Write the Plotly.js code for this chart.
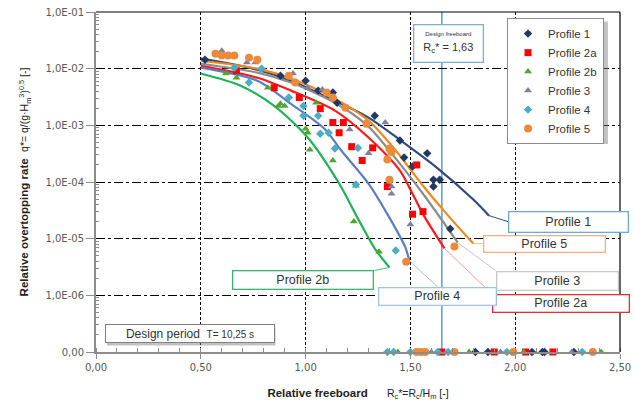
<!DOCTYPE html>
<html><head><meta charset="utf-8">
<script src="https://cdn.plot.ly/plotly-3.0.1.min.js"></script>
<style>html,body{margin:0;padding:0;background:#fff}#chart{width:633px;height:401px}</style>
</head><body><div id="chart"></div>
<script>
// ---- data ----
const profileNames = ['Profile 1','Profile 2a','Profile 2b','Profile 3','Profile 4','Profile 5'];

// measured points (y = 0 means no overtopping; drawn on the "0,00" row)
const p1X = [0.52,0.88,1.00,1.06,1.13,1.15,1.33,1.45,1.58,1.47,1.51,1.61,1.64,1.61,1.69, 1.81,1.87,2.08,2.13,2.14,2.28];
const p1Y = [1.44e-2,7.5e-3,6.1e-3,4.1e-3,3.8e-3,2.5e-3,1.48e-3,5.4e-4,3.2e-4,2.7e-4,1.87e-4,1.10e-4,1.10e-4,8.3e-5,1.5e-5, 0,0,0,0,0,0];
const p2aX = [0.67,0.85,0.97,1.07,1.13,1.18,1.16,1.22,1.32,1.27,1.53,1.39,1.51,1.56, 1.65,1.90,2.05,2.18];
const p2aY = [9.2e-3,4.6e-3,3.1e-3,1.97e-3,1.12e-3,1.12e-3,7.4e-4,4.2e-4,4.0e-4,2.4e-4,2.0e-4,8.3e-5,2.7e-5,3.0e-5, 0,0,0,0];
const p2bX = [0.62,0.67,0.82,0.87,0.88,0.90,1.00,1.01,1.05,1.02,1.13,1.24,1.23,1.35, 1.44,1.78,2.04,2.41];
const p2bY = [8.2e-3,6.9e-3,4.6e-3,2.2e-3,2.4e-3,2.2e-3,8.7e-4,7.4e-4,2.5e-3,3.7e-4,2.4e-4,8.6e-5,2.0e-5,5.9e-6, 0,0,0,0];
const p3X = [0.60,0.72,0.76,0.94,1.01,1.08,1.21,1.38,1.41,1.30,1.41,1.41,1.50, 1.58,1.60,1.93,2.27];
const p3Y = [2.07e-2,1.28e-2,1.28e-2,8.2e-3,4.6e-3,4.3e-3,8.4e-4,1.12e-3,3.7e-4,3.2e-4,8.3e-5,6.2e-5,1.77e-5, 0,0,0,0];
const p4X = [0.66,0.73,0.79,0.92,0.99,0.99,1.06,1.07,1.11,1.14,1.25,1.24,1.43, 1.39,1.42,1.50,1.63,1.68,1.96,2.32];
const p4Y = [1.04e-2,5.7e-3,1.0e-2,3.1e-3,2.2e-3,1.48e-3,1.48e-3,7.1e-4,7.4e-4,3.9e-4,4.0e-4,9.0e-5,6.2e-6, 0,0,0,0,0,0,0];
const p5X = [0.57,0.60,0.63,0.66,0.73,0.77,0.92,0.95,1.10,1.13,1.19,1.29,1.40,1.41,1.39,1.40,1.48,1.71, 1.53,1.55,1.57,1.71,1.99,2.37];
const p5Y = [1.84e-2,1.70e-2,1.70e-2,1.70e-2,1.56e-2,1.44e-2,7.5e-3,5.7e-3,3.8e-3,3.1e-3,2.05e-3,1.07e-3,3.9e-4,3.4e-4,2.5e-4,1.10e-4,3.9e-6,7.3e-6, 0,0,0,0,0,0];

// fitted curves
const f1X = [0.50,0.61,0.77,0.93,1.09,1.30,1.46,1.62,1.80,1.875];
const f1Y = [1.50e-2,1.28e-2,9.6e-3,6.1e-3,3.3e-3,1.37e-3,5.2e-4,1.87e-4,4.9e-5,2.55e-5];
const f2aX = [0.50,0.77,0.93,1.14,1.30,1.45,1.51,1.57,1.663];
const f2aY = [1.13e-2,6.9e-3,4.1e-3,1.82e-3,6.1e-4,1.59e-4,6.2e-5,2.35e-5,6.7e-6];
const f2bX = [0.50,0.69,0.85,1.01,1.16,1.255,1.33,1.40];
const f2bY = [8.2e-3,5.0e-3,2.2e-3,6.1e-4,9.4e-5,2.08e-5,6.7e-6,3.1e-6];
const f3X = [0.50,0.77,0.93,1.14,1.30,1.41,1.56,1.726];
const f3Y = [1.22e-2,8.5e-3,5.7e-3,2.5e-3,9.5e-4,3.2e-4,6.2e-5,8.5e-6];
const f4X = [0.50,0.77,0.93,1.09,1.17,1.30,1.40,1.476,1.495];
const f4Y = [1.04e-2,6.1e-3,2.4e-3,8.7e-4,3.6e-4,9.4e-5,2.35e-5,7.0e-6,4.1e-6];
const f5X = [0.50,0.77,0.93,1.14,1.30,1.43,1.56,1.68,1.80];
const f5Y = [1.38e-2,1.0e-2,6.7e-3,2.96e-3,1.21e-3,3.6e-4,8.6e-5,2.55e-5,8.2e-6];

const designRc = 1.65;          // design freeboard line (labelled 1,63)
const yTickVals = [1e-7,1e-6,1e-5,1e-4,1e-3,1e-2,1e-1];
const yTickText = ['0,00','1,0E-06','1,0E-05','1,0E-04','1,0E-03','1,0E-02','1,0E-01'];
const ZERO_ROW = 1e-7;          // where y = 0 is drawn (broken axis)

// ---- styling ----
const markerColors = ['#1f3864','#ff0000','#4ea72e','#7f7f9f','#4bacc6','#ed8a3a'];
const markerSymbols = ['diamond','square','triangle-up','triangle-up','diamond','circle'];
const markerSizes = [6.5,7,7,7,6.5,8];
const lineColors = ['#2f4b7c','#ff1a1a','#1fb25a','#8c8c8c','#5a7fbf','#f08a1c'];
const leaderColors = ['#2f4b7c','#f29a9a','#4cbb7a','#c4c4c4','#9dc3e6','#f6bf8c'];
const boxColors = ['#6fa8dc','#e0303a','#3cb371','#c8c8c8','#9dc3e6','#f4b183'];

const pts = [[p1X,p1Y],[p2aX,p2aY],[p2bX,p2bY],[p3X,p3Y],[p4X,p4Y],[p5X,p5Y]];
const fits = [[f1X,f1Y],[f2aX,f2aY],[f2bX,f2bY],[f3X,f3Y],[f4X,f4Y],[f5X,f5Y]];

const traces = [];
fits.forEach((f,i)=>{
  traces.push({x:f[0], y:f[1], type:'scatter', mode:'lines', showlegend:false,
    line:{color:lineColors[i], width:2.2, shape:'spline', smoothing:0.8}, hoverinfo:'skip'});
});
pts.forEach((p,i)=>{
  traces.push({x:p[0], y:p[1].map(v=>v===0?ZERO_ROW:v), type:'scatter', mode:'markers',
    name:profileNames[i], cliponaxis:false,
    marker:{color:markerColors[i], symbol:markerSymbols[i], size:markerSizes[i], line:{width:0}}});
});

// label boxes: leader tail offset from curve end (px), anchor, box size
const labelCfg = [
  {ax:19, ay:6,  xa:'left',   ya:'middle', w:116, h:17},
  {ax:47, ay:45, xa:'left',   ya:'top',    w:133, h:14},
  {ax:-15,ay:3,  xa:'right',  ya:'top',    w:137, h:15},
  {ax:38, ay:28, xa:'left',   ya:'top',    w:118, h:15},
  {ax:28, ay:26, xa:'center', ya:'top',    w:114, h:14},
  {ax:10, ay:0,  xa:'left',   ya:'middle', w:118, h:13}
];

const F = 'Liberation Sans, Arial, sans-serif';
const annotations = [];
fits.forEach((f,i)=>{
  const n = f[0].length, c = labelCfg[i];
  annotations.push({x:f[0][n-1], y:Math.log10(f[1][n-1]), xref:'x', yref:'y',
    text:profileNames[i], showarrow:true, arrowhead:0, arrowwidth:1, arrowcolor:leaderColors[i],
    ax:c.ax, ay:c.ay, standoff:0, xanchor:c.xa, yanchor:c.ya, width:c.w, height:c.h,
    bgcolor:'#ffffff', bordercolor:boxColors[i], borderwidth:1.3, borderpad:1,
    font:{family:F, size:12.5, color:'#333333'}});
});
annotations.push({x:0.6718, y:0.906, xref:'paper', yref:'paper', showarrow:false,
  text:'<span style="font-size:6px">Design freeboard</span><br>R<sub>c</sub>* = 1,63',
  xanchor:'center', yanchor:'middle', width:66, height:34, bgcolor:'#ffffff',
  bordercolor:'#7fb0d0', borderwidth:1.3, font:{family:F, size:11, color:'#333'}});
annotations.push({x:0.179, y:0.053, xref:'paper', yref:'paper', showarrow:false,
  text:'Design period\u00a0\u00a0<span style="font-size:10px">T= 10,25 s</span>',
  xanchor:'center', yanchor:'middle', width:166, height:15, bgcolor:'#ffffff',
  bordercolor:'#808080', borderwidth:1, font:{family:F, size:12, color:'#333'}});

// minor ticks on log axis
const yMinor = [];
for (let e=-7; e<-1; e++) for (let m=2; m<10; m++) yMinor.push(m*Math.pow(10,e));

const shapes = [
  {type:'line', xref:'x', yref:'paper', x0:designRc, x1:designRc, y0:0, y1:1, line:{color:'#5b9bd5', width:1.5}, layer:'between'},
  {type:'line', xref:'paper', yref:'paper', x0:0, x1:1, y0:1, y1:1, line:{color:'#000', width:1.2}},
  {type:'line', xref:'paper', yref:'paper', x0:1, x1:1, y0:0, y1:1, line:{color:'#000', width:1.2}},
  // shadows
  {type:'rect', xref:'paper', yref:'paper', x0:0.7901, x1:0.9770, y0:0.612, y1:0.972, fillcolor:'rgba(120,120,120,0.45)', line:{width:0}, layer:'above'},
  {type:'rect', xref:'paper', yref:'paper', x0:0.0210, x1:0.3425, y0:0.019, y1:0.072, fillcolor:'rgba(120,120,120,0.45)', line:{width:0}, layer:'above'}
];

const layout = {
  width:633, height:401,
  margin:{l:96, r:13, t:12, b:49, pad:0},
  paper_bgcolor:'#fff', plot_bgcolor:'#fff',
  separators:', ',
  font:{family:F, size:11, color:'#333'},
  showlegend:true,
  legend:{x:0.7844, y:0.982, xanchor:'left', yanchor:'top', bgcolor:'#fff',
    bordercolor:'#8c8c8c', borderwidth:1, font:{family:F, size:11.5, color:'#333'},
    itemwidth:30, tracegroupgap:0},
  xaxis:{range:[0,2.5], tickmode:'linear', tick0:0, dtick:0.5, tickformat:'.2f',
    showgrid:true, gridcolor:'#000', gridwidth:1, griddash:'3px,2px',
    showline:true, linecolor:'#8c8c8c', linewidth:2, zeroline:false,
    ticks:'outside', ticklen:5, tickcolor:'#8c8c8c', tickwidth:1,
    minor:{dtick:0.1, ticks:'inside', ticklen:4, tickcolor:'#8c8c8c', showgrid:false},
    tickfont:{family:'DejaVu Sans, sans-serif', size:10, color:'#595959'},
    title:{text:'<b>Relative freeboard</b>\u00a0\u00a0\u00a0\u00a0\u00a0\u00a0<span style="font-size:10.5px">R<sub>c</sub>*=R<sub>c</sub>/H<sub>m</sub> [-]</span>',
      font:{family:F, size:11.5, color:'#222'}, standoff:20}},
  yaxis:{type:'log', range:[-7,-1], tickmode:'array', tickvals:yTickVals, ticktext:yTickText,
    showgrid:true, gridcolor:'#000', gridwidth:1, griddash:'dashdot',
    showline:true, linecolor:'#8c8c8c', linewidth:2, zeroline:false,
    ticks:'outside', ticklen:8, tickcolor:'#8c8c8c', tickwidth:1,
    minor:{tickvals:yMinor, ticks:'inside', ticklen:3, tickcolor:'#8c8c8c', showgrid:false},
    tickfont:{family:'DejaVu Sans, sans-serif', size:10, color:'#595959'},
    title:{text:'<b>Relative overtopping rate</b>\u00a0\u00a0<span style="font-size:10.5px">q*= q/(g·H<sub>m</sub><sup>3</sup>)<sup>0,5</sup> [-]</span>',
      font:{family:F, size:11.5, color:'#222'}, standoff:14}},
  annotations:annotations,
  shapes:shapes
};

Plotly.newPlot('chart', traces, layout, {displayModeBar:false, staticPlot:true});
</script></body></html>
